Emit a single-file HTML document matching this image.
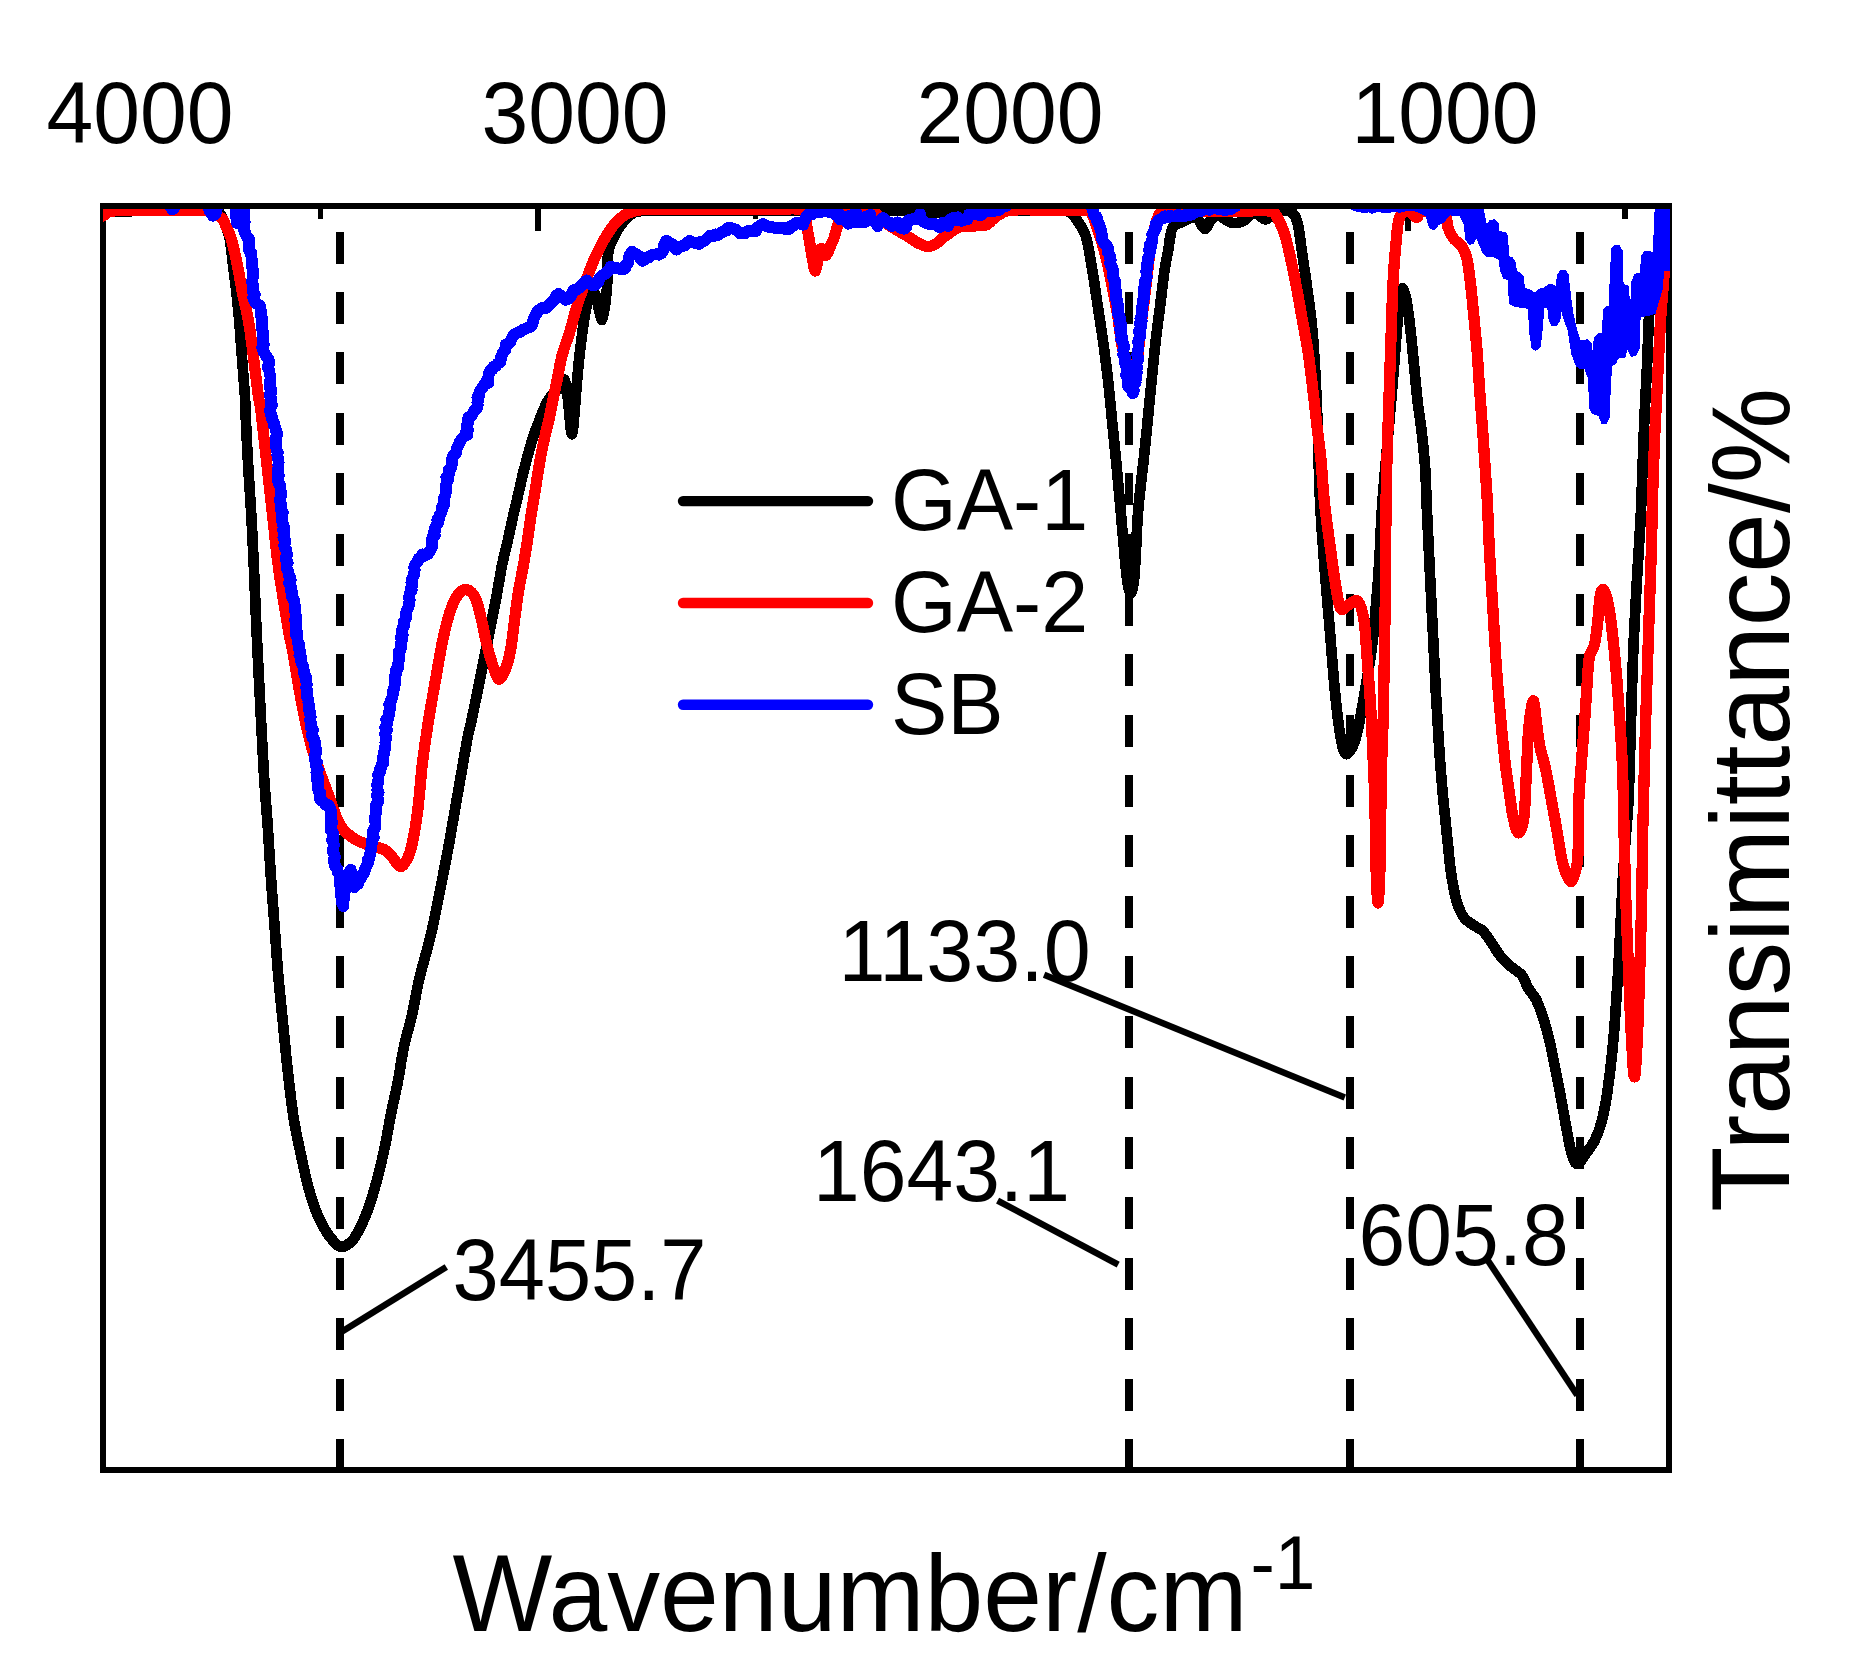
<!DOCTYPE html>
<html><head><meta charset="utf-8"><title>FTIR spectra</title>
<style>html,body{margin:0;padding:0;background:#fff}svg{display:block}</style>
</head><body>
<svg width="1866" height="1673" viewBox="0 0 1866 1673">
<rect width="1866" height="1673" fill="#fff"/>
<defs><clipPath id="pc"><rect x="103" y="209" width="1567" height="1261"/></clipPath></defs>
<g stroke="#000" stroke-width="8" stroke-dasharray="32 28.36" shape-rendering="crispEdges">
<line x1="340.0" y1="231.7" x2="340.0" y2="1470"/>
<line x1="1128.9" y1="231.7" x2="1128.9" y2="1470"/>
<line x1="1350.4" y1="231.7" x2="1350.4" y2="1470"/>
<line x1="1579.6" y1="231.7" x2="1579.6" y2="1470"/>
</g>
<rect x="103" y="206" width="1565.8" height="1264" fill="none" stroke="#000" stroke-width="6" shape-rendering="crispEdges"/>
<g stroke="#000" stroke-width="5.5" shape-rendering="crispEdges">
<line x1="538.0" y1="206" x2="538.0" y2="230.6"/>
<line x1="973.0" y1="206" x2="973.0" y2="230.6"/>
<line x1="1408.0" y1="206" x2="1408.0" y2="230.6"/>
<line x1="320.5" y1="206" x2="320.5" y2="218.8"/>
<line x1="755.5" y1="206" x2="755.5" y2="218.8"/>
<line x1="1190.5" y1="206" x2="1190.5" y2="218.8"/>
<line x1="1625.0" y1="206" x2="1625.0" y2="218.8"/>
</g>
<g clip-path="url(#pc)" fill="none" stroke-width="10.7" stroke-linejoin="round" stroke-linecap="round" shape-rendering="crispEdges">
<path stroke="#000" d="M103.0,211.5C110.8,211.4 133.8,211.1 150.0,211.0C166.2,210.9 190.0,211.0 200.0,211.0C210.0,211.0 207.5,210.9 210.0,211.0C212.5,211.1 213.4,211.2 215.0,211.5C216.6,211.8 217.8,211.0 219.5,213.0C221.2,215.0 223.3,219.3 225.0,223.7C226.7,228.1 228.5,232.4 229.8,239.4C231.2,246.4 232.0,256.9 233.1,265.7C234.2,274.5 235.4,283.2 236.4,292.0C237.4,300.8 238.2,309.5 239.0,318.3C239.8,327.1 240.3,335.8 241.0,344.6C241.7,353.4 242.3,362.1 243.0,370.9C243.7,379.7 244.6,390.7 245.0,397.2C245.4,403.7 244.9,399.1 245.4,410.0C245.9,420.9 247.0,445.1 248.0,462.6C249.0,480.1 250.3,497.7 251.3,515.2C252.3,532.7 253.0,548.6 253.9,567.7C254.8,586.8 255.5,607.9 256.5,629.9C257.5,651.9 258.8,676.3 260.0,700.0C261.2,723.7 262.5,750.3 263.8,772.0C265.1,793.7 266.8,812.0 268.0,830.0C269.2,848.0 270.0,863.7 271.1,880.0C272.2,896.3 273.5,911.9 274.7,927.8C275.9,943.7 276.9,959.6 278.3,975.6C279.7,991.6 281.4,1007.5 283.0,1023.5C284.6,1039.5 286.0,1055.4 287.8,1071.3C289.6,1087.2 291.6,1105.1 293.8,1119.1C296.0,1133.0 298.6,1143.8 301.0,1155.0C303.4,1166.2 305.5,1176.5 308.1,1186.1C310.7,1195.7 313.5,1204.8 316.5,1212.4C319.5,1220.0 322.9,1226.3 326.1,1231.5C329.3,1236.7 333.0,1240.9 335.6,1243.5C338.2,1246.1 339.6,1246.8 341.6,1247.0C343.6,1247.2 345.5,1245.8 347.5,1244.5C349.5,1243.2 350.9,1243.0 353.4,1239.4C355.9,1235.8 360.0,1228.3 362.6,1222.7C365.2,1217.1 366.9,1212.9 369.3,1205.9C371.7,1198.9 374.2,1190.5 376.8,1180.8C379.4,1171.0 382.3,1158.6 384.7,1147.4C387.1,1136.2 388.8,1125.1 391.0,1113.9C393.2,1102.7 396.0,1091.6 398.1,1080.4C400.2,1069.2 401.5,1058.1 403.9,1046.9C406.3,1035.8 409.8,1024.7 412.3,1013.5C414.8,1002.4 416.6,990.3 419.0,980.0C421.4,969.7 424.2,960.4 426.5,951.7C428.8,943.0 430.7,935.8 432.5,927.8C434.3,919.8 435.7,911.9 437.3,903.9C438.9,895.9 440.1,890.1 442.1,880.0C444.1,869.9 446.9,855.6 449.1,843.5C451.3,831.4 453.2,819.6 455.3,807.6C457.4,795.6 459.5,783.7 461.6,771.7C463.7,759.8 466.2,744.5 467.9,735.9C469.6,727.3 469.5,729.8 471.6,720.0C473.7,710.2 478.3,687.6 480.4,677.2C482.5,666.8 482.6,666.0 484.3,657.5C486.0,649.0 488.4,636.9 490.5,626.5C492.6,616.1 494.8,605.8 496.7,595.4C498.6,585.0 500.3,573.5 502.2,564.3C504.1,555.1 506.0,548.4 507.9,540.0C509.8,531.6 511.9,521.4 513.6,513.9C515.3,506.3 516.7,501.1 518.2,494.7C519.7,488.3 521.0,482.0 522.5,475.6C524.0,469.2 525.8,462.9 527.5,456.5C529.2,450.1 530.9,443.8 533.0,437.4C535.1,431.0 537.8,424.2 540.2,418.2C542.6,412.2 544.9,405.9 547.4,401.5C549.9,397.1 552.7,394.4 555.0,392.0C557.3,389.6 559.4,389.0 561.0,387.0C562.6,385.0 563.5,377.8 564.7,380.0C565.9,382.2 566.8,391.0 568.0,400.0C569.2,409.0 570.7,436.9 572.2,434.0C573.7,431.1 575.5,397.4 576.9,382.6C578.3,367.8 579.1,357.6 580.7,345.1C582.3,332.6 584.4,316.4 586.3,307.6C588.2,298.9 590.3,294.5 591.9,292.6C593.5,290.7 594.3,291.5 596.0,296.0C597.7,300.5 600.4,321.0 602.2,319.8C604.0,318.6 605.9,300.0 606.9,288.8C607.9,277.6 606.7,261.9 608.3,252.5C609.9,243.1 613.7,237.7 616.3,232.5C618.9,227.3 621.0,224.5 623.8,221.3C626.6,218.1 629.7,214.9 633.2,213.2C636.7,211.5 633.9,211.4 645.0,211.0C656.1,210.6 674.2,211.0 700.0,211.0C725.8,211.0 766.7,211.0 800.0,211.0C833.3,211.0 877.2,210.8 900.0,211.0C922.8,211.2 925.3,212.5 937.0,212.5C948.7,212.5 952.8,211.2 970.0,211.0C987.2,210.8 1023.8,211.0 1040.0,211.0C1056.2,211.0 1060.9,209.6 1067.0,211.0C1073.1,212.4 1073.3,215.2 1076.4,219.4C1079.5,223.6 1083.2,227.9 1085.8,236.3C1088.4,244.7 1090.3,258.1 1092.3,270.0C1094.3,281.9 1096.1,295.1 1098.0,307.6C1099.9,320.1 1101.9,332.6 1103.6,345.1C1105.3,357.6 1106.9,370.1 1108.3,382.6C1109.7,395.1 1110.8,407.6 1112.0,420.1C1113.2,432.6 1114.4,442.9 1115.8,457.7C1117.2,472.5 1119.0,491.9 1120.5,509.0C1122.0,526.0 1123.8,547.3 1125.0,560.0C1126.2,572.7 1127.0,579.5 1128.0,585.0C1129.0,590.5 1130.0,593.8 1131.0,593.0C1132.0,592.2 1133.2,587.2 1134.0,580.0C1134.8,572.8 1135.3,561.8 1136.0,550.0C1136.7,538.2 1137.0,524.4 1138.3,509.0C1139.6,493.6 1142.3,472.5 1143.9,457.7C1145.5,442.9 1146.5,432.6 1147.7,420.1C1149.0,407.6 1150.2,395.1 1151.4,382.6C1152.7,370.1 1153.8,357.6 1155.2,345.1C1156.6,332.6 1158.3,320.1 1159.9,307.6C1161.5,295.1 1163.2,279.6 1164.6,270.0C1166.0,260.4 1167.4,255.3 1168.3,250.0C1169.2,244.7 1169.2,241.8 1170.0,238.0C1170.8,234.2 1171.1,229.5 1173.0,226.9C1174.9,224.3 1178.1,223.8 1181.4,222.2C1184.7,220.6 1189.9,218.0 1192.7,217.5C1195.5,217.0 1196.0,217.1 1198.0,219.0C1200.0,220.9 1202.6,228.6 1204.8,228.8C1207.0,229.0 1208.7,222.2 1211.0,220.0C1213.3,217.8 1216.3,215.6 1218.8,215.6C1221.3,215.6 1223.5,218.8 1226.0,220.0C1228.5,221.2 1230.9,222.9 1233.8,223.1C1236.7,223.3 1239.8,222.7 1243.2,221.0C1246.6,219.3 1250.7,213.5 1254.4,213.2C1258.2,212.9 1262.3,219.5 1265.7,219.4C1269.1,219.3 1272.1,213.9 1275.0,212.5C1277.9,211.1 1280.2,211.0 1283.0,211.0C1285.8,211.0 1289.6,210.5 1292.0,212.5C1294.4,214.5 1295.9,216.6 1297.6,223.1C1299.2,229.6 1299.5,234.1 1301.9,251.3C1304.3,268.5 1309.5,301.3 1312.0,326.3C1314.5,351.3 1315.4,372.4 1316.7,401.4C1318.0,430.3 1318.7,472.8 1320.0,500.0C1321.3,527.2 1322.7,542.9 1324.3,564.4C1325.9,585.9 1327.9,607.3 1329.7,628.8C1331.5,650.2 1333.3,675.2 1335.1,693.1C1336.9,711.0 1338.6,725.9 1340.4,736.0C1342.2,746.1 1343.5,752.9 1345.8,754.0C1348.1,755.1 1351.9,749.1 1354.4,742.5C1356.9,735.9 1358.0,730.0 1360.8,714.6C1363.6,699.2 1369.0,668.1 1371.5,650.2C1374.0,632.3 1374.5,621.6 1375.8,607.3C1377.1,593.0 1378.0,581.4 1379.1,564.4C1380.2,547.4 1380.5,529.1 1382.2,505.0C1383.9,480.9 1387.5,443.5 1389.5,420.0C1391.5,396.5 1392.8,381.1 1394.2,363.9C1395.6,346.7 1396.8,329.5 1398.0,317.0C1399.2,304.5 1400.3,291.8 1401.7,289.0C1403.1,286.2 1405.0,293.8 1406.4,300.0C1407.8,306.2 1408.8,315.7 1410.1,326.3C1411.3,336.9 1412.7,351.4 1413.9,363.9C1415.2,376.4 1416.3,390.5 1417.6,401.4C1418.8,412.3 1420.2,418.6 1421.4,429.5C1422.7,440.4 1424.2,454.4 1425.1,467.0C1426.0,479.6 1426.0,488.8 1426.7,505.0C1427.4,521.2 1428.5,543.8 1429.5,564.4C1430.5,585.0 1431.6,607.3 1432.7,628.8C1433.8,650.2 1434.8,673.4 1435.9,693.1C1437.0,712.8 1438.0,730.7 1439.1,746.8C1440.2,762.9 1441.3,777.2 1442.4,789.7C1443.5,802.2 1444.7,812.7 1445.6,821.9C1446.5,831.1 1447.1,836.6 1448.0,845.0C1448.9,853.4 1449.5,863.0 1450.9,872.2C1452.3,881.4 1454.2,892.6 1456.3,900.1C1458.4,907.6 1460.8,913.0 1463.8,917.3C1466.8,921.6 1471.3,923.5 1474.5,925.8C1477.7,928.1 1480.2,928.3 1483.1,931.2C1486.0,934.1 1488.8,938.9 1491.7,943.0C1494.6,947.1 1497.1,952.0 1500.3,955.9C1503.5,959.8 1507.4,963.4 1511.0,966.6C1514.6,969.8 1518.9,971.6 1521.8,975.2C1524.7,978.8 1525.9,984.2 1528.2,988.1C1530.5,992.0 1533.6,994.9 1535.7,998.8C1537.8,1002.7 1539.3,1006.7 1541.1,1011.7C1542.9,1016.7 1544.8,1023.1 1546.4,1028.8C1548.0,1034.5 1549.3,1039.5 1550.7,1046.0C1552.1,1052.5 1553.6,1060.3 1555.0,1067.5C1556.4,1074.7 1557.9,1081.4 1559.3,1088.9C1560.7,1096.4 1562.2,1104.6 1563.6,1112.5C1565.0,1120.4 1566.5,1128.9 1567.9,1136.1C1569.3,1143.3 1570.6,1150.8 1572.2,1155.5C1573.8,1160.2 1575.3,1164.4 1577.6,1164.0C1579.9,1163.6 1583.2,1157.2 1586.1,1153.3C1588.9,1149.4 1592.2,1145.4 1594.7,1140.4C1597.2,1135.4 1599.2,1130.5 1601.2,1123.3C1603.2,1116.1 1604.9,1107.2 1606.5,1097.5C1608.1,1087.8 1609.5,1076.0 1610.8,1065.3C1612.0,1054.6 1613.1,1043.8 1614.0,1033.1C1614.9,1022.4 1615.5,1011.6 1616.2,1000.9C1616.9,990.2 1617.6,981.3 1618.3,968.8C1619.0,956.3 1619.8,940.1 1620.5,925.8C1621.2,911.5 1621.8,897.2 1622.6,882.9C1623.4,868.6 1624.5,853.8 1625.5,840.0C1626.5,826.2 1627.5,820.9 1628.5,800.0C1629.5,779.1 1630.4,739.6 1631.2,714.6C1632.0,689.6 1632.4,671.7 1633.3,650.2C1634.2,628.7 1635.5,605.5 1636.6,585.8C1637.7,566.1 1639.0,545.7 1639.8,532.2C1640.6,518.7 1640.5,523.6 1641.2,505.0C1642.0,486.4 1643.3,443.8 1644.3,420.3C1645.3,396.8 1646.3,381.2 1647.1,364.0C1647.9,346.8 1648.3,329.0 1649.0,317.0C1649.7,305.0 1650.5,299.8 1651.5,292.0C1652.5,284.2 1653.8,277.0 1655.0,270.0C1656.2,263.0 1657.7,257.3 1659.0,250.0C1660.3,242.7 1661.7,232.5 1663.0,226.0C1664.3,219.5 1666.3,213.5 1667.0,211.0"/>
<path stroke="#f00" stroke-width="11.3" d="M103.0,216.0C103.8,215.4 105.8,213.1 108.0,212.2C110.2,211.3 112.3,211.0 116.0,210.7C119.7,210.4 115.5,210.3 130.0,210.2C144.5,210.1 189.3,209.8 203.0,210.2C216.7,210.6 209.5,211.6 212.0,212.5C214.5,213.4 216.2,214.3 218.0,215.5C219.8,216.7 221.7,217.9 223.0,219.7C224.3,221.5 224.5,223.0 225.9,226.3C227.3,229.6 229.6,232.8 231.5,239.4C233.4,246.0 235.7,256.9 237.5,265.7C239.3,274.5 240.6,283.2 242.3,292.0C244.1,300.8 246.4,309.5 248.0,318.3C249.6,327.1 250.7,335.8 251.9,344.6C253.1,353.4 254.1,362.1 255.2,370.9C256.3,379.7 257.6,390.7 258.5,397.2C259.4,403.7 259.4,399.1 260.8,410.0C262.2,420.9 264.7,445.1 266.7,462.6C268.7,480.1 270.6,497.7 272.6,515.2C274.6,532.7 275.9,548.6 278.5,567.7C281.1,586.8 286.1,616.2 288.4,629.9C290.7,643.6 290.1,637.1 292.5,650.0C294.9,662.9 299.2,690.8 302.5,707.5C305.8,724.2 308.3,735.8 312.5,750.0C316.7,764.2 322.9,780.0 327.5,792.5C332.1,805.0 335.8,817.5 340.0,825.0C344.2,832.5 348.3,834.4 352.5,837.5C356.7,840.6 359.6,841.7 365.0,843.8C370.4,845.8 380.3,847.6 385.0,850.0C389.7,852.4 390.5,855.2 393.0,858.0C395.5,860.8 397.8,866.0 400.0,866.5C402.2,867.0 404.1,864.1 406.0,861.0C407.9,857.9 409.3,856.1 411.2,848.0C413.2,839.9 415.6,826.8 417.5,812.5C419.4,798.2 420.6,777.9 422.5,762.5C424.4,747.1 426.4,734.2 428.6,720.0C430.9,705.8 433.6,690.7 436.0,677.2C438.4,663.7 440.6,650.1 443.0,639.0C445.4,627.9 447.9,617.8 450.5,610.3C453.1,602.8 455.7,597.4 458.5,594.0C461.3,590.6 464.6,589.0 467.5,589.8C470.4,590.6 473.5,593.9 475.8,598.9C478.1,603.9 479.6,612.3 481.5,619.9C483.4,627.5 484.9,636.7 486.9,644.7C488.9,652.7 491.5,662.0 493.6,667.7C495.7,673.5 497.2,679.2 499.3,679.2C501.4,679.2 504.1,672.8 506.0,667.7C507.9,662.6 509.4,656.6 510.8,648.6C512.2,640.6 513.3,629.5 514.6,619.9C515.9,610.3 517.0,600.4 518.5,591.2C520.0,582.1 522.0,573.5 523.5,565.0C525.0,556.5 526.2,548.5 527.5,540.0C528.8,531.5 530.1,521.4 531.3,513.9C532.5,506.3 533.5,501.1 534.5,494.7C535.5,488.3 536.5,482.0 537.5,475.6C538.5,469.2 539.5,462.9 540.7,456.5C541.9,450.1 543.3,443.8 544.7,437.4C546.1,431.0 547.9,424.5 549.3,418.2C550.7,411.9 551.7,405.9 553.0,399.5C554.3,393.1 555.7,386.9 557.2,379.5C558.7,372.1 560.0,363.4 562.1,355.4C564.2,347.4 567.5,339.5 569.9,331.5C572.3,323.5 574.0,315.6 576.5,307.6C579.0,299.6 581.9,291.7 584.8,283.7C587.7,275.7 591.5,265.8 594.0,259.8C596.5,253.8 598.0,251.8 600.0,247.8C602.0,243.8 603.8,239.9 606.3,235.9C608.8,231.9 611.5,227.5 614.7,223.9C617.9,220.3 621.6,216.8 625.5,214.5C629.4,212.2 633.9,211.1 638.0,210.3C642.1,209.5 639.7,209.8 650.0,209.7C660.3,209.6 681.7,209.7 700.0,209.7C718.3,209.7 742.7,209.7 760.0,209.7C777.3,209.7 796.2,207.6 803.9,209.7C811.6,211.8 805.0,216.6 806.0,222.0C807.0,227.4 808.4,235.2 809.6,241.9C810.8,248.6 812.1,257.1 813.0,262.0C813.9,266.9 814.5,271.0 815.2,271.0C816.0,271.0 816.6,265.7 817.5,262.0C818.4,258.3 819.8,250.8 820.8,249.0C821.8,247.2 822.6,250.0 823.5,251.0C824.4,252.0 825.3,255.7 826.4,255.0C827.5,254.3 828.8,249.8 830.0,247.0C831.2,244.2 832.3,242.8 833.9,238.2C835.5,233.6 837.7,224.1 839.6,219.4C841.5,214.7 840.1,211.7 845.2,210.2C850.3,208.7 862.7,207.7 870.0,210.2C877.3,212.7 882.5,220.7 888.8,225.0C895.0,229.3 902.6,233.3 907.5,236.3C912.4,239.3 914.5,241.3 918.0,243.0C921.5,244.7 925.0,246.6 928.2,246.6C931.4,246.6 934.2,244.7 937.0,243.0C939.8,241.3 941.2,239.0 945.0,236.3C948.8,233.6 955.0,228.6 960.0,226.9C965.0,225.2 970.6,226.2 975.0,225.9C979.4,225.6 983.5,226.0 986.3,225.0C989.1,224.0 990.1,221.6 992.0,220.0C993.9,218.4 994.5,217.2 997.6,215.6C1000.7,214.0 1002.0,211.1 1010.7,210.2C1019.4,209.3 1037.1,210.1 1050.0,210.2C1062.9,210.2 1081.0,209.9 1088.0,210.5C1095.0,211.1 1090.7,211.6 1092.0,214.0C1093.3,216.4 1094.3,220.2 1096.0,225.0C1097.7,229.8 1100.0,236.2 1102.0,243.0C1104.0,249.8 1106.1,257.8 1108.0,266.0C1109.9,274.2 1111.6,283.3 1113.3,292.0C1115.0,300.7 1116.6,309.2 1118.0,318.0C1119.4,326.8 1120.4,337.7 1121.8,345.0C1123.2,352.3 1124.9,358.0 1126.5,362.0C1128.1,366.0 1130.0,368.7 1131.3,369.0C1132.6,369.3 1133.5,365.9 1134.5,364.0C1135.5,362.1 1136.6,363.3 1137.6,357.9C1138.6,352.5 1139.3,340.4 1140.3,331.6C1141.3,322.8 1142.5,314.1 1143.6,305.3C1144.7,296.5 1145.6,288.8 1146.8,278.9C1148.0,269.0 1149.2,255.5 1150.8,246.1C1152.3,236.7 1154.4,228.1 1156.1,222.4C1157.8,216.7 1159.0,213.9 1161.0,212.0C1163.0,210.1 1161.5,211.1 1168.0,211.0C1174.5,210.9 1188.0,211.2 1200.0,211.2C1212.0,211.2 1228.3,211.2 1240.0,211.2C1251.7,211.2 1263.7,209.9 1270.0,211.2C1276.3,212.5 1275.4,214.5 1278.0,219.0C1280.6,223.5 1283.1,228.7 1285.8,238.3C1288.5,247.9 1291.8,263.7 1294.4,276.5C1297.0,289.3 1299.2,302.2 1301.5,315.0C1303.8,327.8 1306.3,340.3 1308.2,353.0C1310.1,365.7 1311.5,378.2 1313.0,391.0C1314.5,403.8 1316.1,418.0 1317.4,429.5C1318.7,441.0 1319.8,447.8 1321.0,460.0C1322.2,472.2 1323.0,489.2 1324.5,503.0C1326.0,516.8 1327.9,529.8 1329.7,542.9C1331.5,556.0 1333.3,570.6 1335.1,581.5C1336.9,592.4 1338.3,604.0 1340.4,608.0C1342.5,612.0 1345.0,606.4 1347.9,605.2C1350.8,604.0 1354.9,598.5 1357.6,601.0C1360.3,603.5 1362.4,610.2 1364.0,620.2C1365.6,630.2 1366.2,647.0 1367.3,660.9C1368.4,674.8 1369.6,689.6 1370.5,703.9C1371.4,718.2 1371.9,730.7 1372.6,746.8C1373.3,762.9 1374.3,784.0 1374.8,800.4C1375.3,816.8 1375.2,831.4 1375.5,845.0C1375.8,858.6 1376.1,872.3 1376.5,882.0C1376.9,891.7 1377.5,903.0 1378.0,903.0C1378.5,903.0 1379.1,891.7 1379.5,882.0C1379.9,872.3 1380.3,862.2 1380.6,845.0C1380.9,827.8 1380.8,800.7 1381.2,779.0C1381.7,757.3 1382.8,736.1 1383.3,714.6C1383.8,693.1 1384.0,671.7 1384.4,650.2C1384.8,628.7 1385.2,610.0 1385.5,585.8C1385.8,561.6 1385.7,529.5 1386.0,505.0C1386.3,480.5 1387.0,459.3 1387.6,438.9C1388.2,418.5 1388.9,401.4 1389.5,382.6C1390.1,363.8 1390.8,343.5 1391.4,326.3C1392.0,309.1 1392.4,293.5 1393.2,279.4C1394.0,265.3 1395.1,251.9 1396.1,241.9C1397.0,231.9 1397.5,224.5 1398.9,219.4C1400.3,214.3 1402.7,212.5 1404.5,211.2C1406.3,209.9 1408.0,210.6 1410.0,211.7C1412.0,212.8 1414.7,217.5 1416.7,217.5C1418.7,217.5 1417.5,212.6 1422.0,211.7C1426.5,210.8 1439.6,209.5 1443.9,212.0C1448.2,214.5 1446.1,222.5 1447.7,226.9C1449.3,231.3 1450.8,234.8 1453.3,238.2C1455.8,241.6 1460.3,243.8 1462.7,247.5C1465.1,251.2 1466.0,253.8 1467.4,260.7C1468.8,267.6 1470.0,279.4 1471.1,288.8C1472.2,298.2 1472.9,306.8 1473.9,317.0C1474.9,327.2 1476.0,337.5 1477.0,350.0C1478.0,362.5 1478.8,377.8 1479.8,392.0C1480.8,406.2 1482.0,420.3 1483.0,435.0C1484.0,449.7 1485.2,468.3 1486.0,480.0C1486.8,491.7 1486.9,492.7 1487.5,505.0C1488.1,517.3 1488.7,536.6 1489.6,553.6C1490.5,570.6 1491.7,589.4 1492.8,607.3C1493.9,625.2 1494.8,643.0 1496.0,660.9C1497.2,678.8 1498.9,698.5 1500.3,714.6C1501.7,730.7 1503.2,745.0 1504.6,757.5C1506.0,770.0 1507.5,779.7 1508.9,789.7C1510.3,799.7 1511.6,810.4 1513.2,817.6C1514.8,824.8 1516.7,833.0 1518.5,833.0C1520.3,833.0 1522.6,826.6 1523.9,817.6C1525.2,808.6 1525.4,792.6 1526.1,779.0C1526.8,765.4 1527.5,746.7 1528.2,736.0C1528.9,725.3 1529.4,720.4 1530.3,714.6C1531.2,708.8 1532.5,699.2 1533.6,701.0C1534.7,702.8 1535.7,717.7 1536.8,725.3C1537.9,732.9 1538.6,739.6 1540.0,746.8C1541.4,753.9 1543.6,760.0 1545.4,768.2C1547.2,776.4 1548.9,786.1 1550.7,796.1C1552.5,806.1 1554.6,817.4 1556.5,828.0C1558.4,838.6 1560.4,852.5 1562.0,860.0C1563.6,867.5 1564.5,869.4 1566.0,873.0C1567.5,876.6 1569.5,881.5 1571.0,881.5C1572.5,881.5 1573.9,876.3 1575.0,873.0C1576.1,869.7 1576.9,866.2 1577.4,861.5C1578.0,856.8 1578.1,855.2 1578.3,845.0C1578.5,834.8 1578.2,815.0 1578.8,800.4C1579.4,785.8 1580.8,771.8 1581.8,757.5C1582.8,743.2 1584.2,727.1 1585.1,714.6C1586.0,702.1 1586.5,692.0 1587.2,682.4C1587.9,672.8 1588.2,663.1 1589.4,656.7C1590.7,650.3 1593.3,649.9 1594.7,643.8C1596.1,637.7 1597.0,628.1 1597.9,620.2C1598.8,612.3 1599.2,601.7 1600.1,596.6C1601.0,591.5 1602.0,588.8 1603.3,589.5C1604.5,590.2 1606.2,594.4 1607.6,600.9C1609.0,607.4 1610.5,617.0 1611.9,628.8C1613.3,640.6 1615.0,657.4 1616.2,671.7C1617.5,686.0 1618.4,700.3 1619.4,714.6C1620.4,728.9 1621.3,743.2 1622.0,757.5C1622.7,771.8 1623.1,786.6 1623.5,800.4C1623.9,814.1 1623.8,822.7 1624.2,840.0C1624.6,857.3 1625.3,882.5 1626.0,904.0C1626.7,925.5 1627.6,947.3 1628.5,968.8C1629.4,990.3 1630.2,1015.1 1631.2,1033.1C1632.2,1051.1 1633.3,1077.0 1634.4,1077.0C1635.5,1077.0 1636.7,1051.1 1637.6,1033.1C1638.5,1015.1 1639.1,990.2 1639.8,968.8C1640.5,947.3 1641.1,925.0 1641.6,904.4C1642.0,883.8 1642.2,862.3 1642.5,845.0C1642.8,827.7 1643.0,818.6 1643.5,800.4C1644.0,782.2 1644.6,757.5 1645.2,736.0C1645.8,714.5 1646.6,693.2 1647.3,671.7C1648.0,650.2 1648.7,628.8 1649.4,607.3C1650.1,585.8 1651.1,559.9 1651.6,542.9C1652.1,525.9 1651.8,522.3 1652.3,505.0C1652.8,487.7 1653.8,459.2 1654.6,439.0C1655.4,418.8 1656.5,402.5 1657.4,383.7C1658.3,364.9 1659.3,342.2 1660.2,326.4C1661.1,310.6 1661.8,304.5 1663.0,288.9C1664.2,273.2 1666.7,244.0 1667.7,232.5C1668.7,221.0 1668.8,222.1 1669.0,220.0"/>
<path stroke="#00f" stroke-width="11.8" d="M103.0,195.0 L105.6,194.6 L108.2,194.2 L110.8,195.3 L113.4,194.1 L116.0,195.1 L118.5,194.7 L121.1,194.0 L123.7,195.0 L126.3,194.0 L128.9,194.9 L131.5,194.1 L134.1,194.1 L136.7,194.8 L139.3,195.7 L141.9,194.2 L144.5,194.4 L147.0,195.3 L149.6,196.0 L152.2,195.2 L154.8,194.8 L157.4,196.0 L160.5,194.2 L162.2,197.3 L165.6,197.9 L168.7,199.6 L170.0,202.1 L170.9,204.7 L171.1,207.7 L172.4,209.5 L174.4,207.4 L175.8,205.0 L176.5,202.3 L178.1,200.1 L180.2,197.5 L182.8,195.8 L186.0,194.4 L188.8,195.4 L191.6,194.8 L194.4,194.6 L197.2,195.2 L200.1,194.9 L202.3,196.3 L203.6,198.8 L205.6,200.2 L207.5,202.3 L207.8,205.1 L208.9,207.5 L209.3,210.4 L211.2,213.2 L212.9,215.8 L215.8,213.5 L215.7,209.7 L217.5,207.2 L219.3,204.7 L219.2,201.5 L221.0,199.0 L223.6,196.7 L227.2,196.7 L230.0,195.6 L233.2,195.2 L235.5,195.0 L236.7,197.5 L235.9,200.1 L236.2,202.6 L236.2,205.2 L236.5,207.7 L235.7,210.3 L235.5,212.8 L236.6,215.4 L236.2,217.9 L237.5,220.4 L237.0,223.1 L237.4,220.5 L238.6,218.1 L238.8,215.4 L238.1,212.6 L238.8,210.1 L239.9,207.6 L239.1,204.4 L241.7,202.5 L244.2,200.0 L244.4,202.7 L244.5,205.4 L243.0,208.1 L244.4,210.8 L244.2,213.5 L243.9,216.2 L242.9,218.9 L244.7,221.6 L243.9,224.3 L243.7,227.0 L244.1,230.3 L245.3,233.3 L246.6,236.5 L249.1,239.3 L249.1,242.0 L249.6,244.6 L248.8,247.4 L248.9,250.0 L251.0,252.5 L251.3,255.1 L251.5,257.7 L251.8,260.4 L251.6,263.1 L251.7,265.7 L252.6,268.3 L253.3,270.9 L252.6,273.6 L252.9,276.2 L252.6,278.9 L251.9,281.5 L252.7,284.1 L253.2,286.7 L253.2,289.4 L253.2,292.0 L254.9,294.6 L253.3,297.4 L254.0,300.4 L255.7,302.6 L257.7,304.4 L260.2,306.0 L260.5,309.1 L261.4,312.1 L260.5,315.3 L262.1,318.2 L262.2,320.9 L262.1,323.5 L262.4,326.1 L262.1,328.8 L262.9,331.4 L263.2,334.0 L263.1,336.7 L263.3,339.3 L262.9,342.0 L263.8,344.5 L262.2,347.5 L263.0,350.2 L264.1,352.6 L265.6,355.0 L267.1,357.5 L268.8,360.0 L269.5,362.7 L268.1,365.5 L268.0,368.3 L269.4,370.9 L269.5,373.5 L270.5,376.1 L270.6,378.7 L270.2,381.4 L270.6,384.0 L269.5,386.7 L271.1,389.3 L271.5,391.9 L269.7,394.6 L270.7,397.2 L271.6,399.7 L270.8,402.3 L272.0,404.9 L270.9,407.4 L270.0,410.1 L270.5,412.6 L271.1,415.0 L272.3,417.4 L272.3,419.9 L273.7,422.1 L273.6,425.1 L275.2,427.3 L275.7,429.7 L276.8,432.2 L277.1,434.7 L275.9,437.3 L275.6,439.9 L276.0,442.4 L276.2,444.9 L276.3,447.4 L276.6,450.0 L277.8,452.5 L277.3,455.0 L277.7,457.5 L278.5,460.0 L278.6,462.5 L278.3,465.1 L278.6,467.6 L277.8,470.2 L277.5,472.7 L278.8,475.1 L278.0,477.7 L278.1,480.2 L278.4,482.7 L279.9,485.1 L280.4,487.6 L280.6,490.1 L280.9,492.6 L281.1,495.1 L280.4,497.7 L280.0,500.2 L280.4,502.7 L281.4,505.2 L281.2,507.7 L281.1,510.2 L282.9,512.6 L281.8,515.2 L281.6,517.8 L282.1,520.3 L282.4,522.8 L283.2,525.2 L284.1,527.6 L283.1,530.3 L284.3,532.7 L283.5,535.3 L283.4,537.8 L284.9,540.2 L285.1,542.7 L284.2,545.3 L284.9,547.7 L286.4,550.1 L286.7,552.6 L286.9,555.1 L285.5,557.8 L286.0,560.3 L287.7,562.6 L286.4,565.3 L286.4,567.9 L287.5,570.2 L288.6,572.6 L288.7,575.1 L290.0,577.4 L290.7,579.8 L289.1,582.7 L290.3,585.0 L291.0,587.5 L290.6,590.1 L292.1,592.4 L291.6,595.0 L292.2,597.5 L294.0,599.7 L294.3,602.2 L294.7,604.6 L295.3,607.2 L294.7,609.7 L295.6,612.2 L295.5,614.8 L296.4,617.2 L294.9,619.9 L296.3,622.3 L296.3,624.8 L296.2,627.4 L295.7,630.0 L297.0,632.4 L296.2,635.0 L297.4,637.4 L297.6,640.0 L297.9,642.5 L299.3,644.9 L298.6,647.5 L299.4,649.8 L300.4,652.2 L299.4,655.2 L301.3,657.3 L301.3,660.0 L301.4,662.6 L302.4,665.0 L303.5,667.4 L303.7,670.0 L304.3,672.5 L304.4,675.1 L306.2,677.4 L305.5,680.0 L306.5,682.4 L306.8,684.9 L306.1,687.6 L307.0,690.0 L307.2,692.5 L307.1,695.1 L307.1,697.6 L308.5,700.0 L308.4,702.5 L309.0,705.0 L309.3,707.5 L309.2,710.1 L310.1,712.5 L310.3,715.0 L310.7,717.5 L310.0,720.1 L310.9,722.6 L310.8,725.1 L311.0,727.6 L312.9,729.9 L312.5,732.5 L312.0,735.1 L312.6,737.6 L314.5,739.9 L314.8,742.4 L314.5,745.0 L315.6,747.4 L315.6,749.9 L316.2,752.4 L315.1,755.0 L315.1,757.6 L315.1,760.1 L317.0,762.4 L316.0,765.0 L316.4,767.5 L317.8,769.9 L316.4,772.6 L316.5,775.1 L318.4,777.4 L317.0,780.1 L318.5,782.5 L318.5,785.0 L317.7,787.6 L318.3,790.1 L320.0,792.4 L319.6,795.0 L319.7,797.5 L320.2,799.7 L322.4,801.0 L324.2,802.7 L325.7,804.9 L328.6,805.2 L329.9,807.5 L330.3,810.0 L331.5,812.4 L331.0,815.0 L330.6,817.5 L331.0,820.0 L332.2,822.4 L330.4,825.1 L331.0,827.6 L330.8,830.1 L332.9,832.4 L332.8,835.0 L333.5,837.4 L332.1,840.1 L333.4,842.5 L333.9,844.9 L333.5,847.5 L332.6,850.1 L333.1,852.6 L334.5,855.0 L334.9,857.4 L333.5,860.1 L334.4,862.5 L334.4,865.0 L335.8,867.0 L337.5,869.5 L338.0,872.7 L340.2,875.0 L341.1,877.5 L339.5,880.2 L340.3,882.8 L340.2,885.4 L342.0,887.8 L340.5,890.6 L342.4,893.0 L340.9,895.7 L342.0,898.2 L342.4,900.8 L342.2,903.4 L343.4,906.2 L342.5,903.3 L342.8,900.7 L344.2,898.3 L344.1,895.6 L344.3,893.0 L345.0,890.4 L345.3,887.8 L346.1,885.3 L346.9,882.8 L347.4,880.2 L349.0,877.8 L348.5,875.0 L349.5,872.6 L350.7,869.8 L351.0,872.4 L352.4,874.7 L352.7,877.3 L353.9,879.7 L353.1,882.6 L354.2,885.0 L354.4,887.2 L356.2,885.3 L358.3,883.6 L358.0,880.5 L360.6,879.1 L361.1,876.5 L362.5,874.4 L364.4,872.6 L364.8,869.9 L365.8,867.5 L366.9,865.1 L368.3,862.8 L367.7,859.9 L369.5,857.7 L369.9,855.1 L370.5,852.6 L370.8,849.9 L371.4,847.4 L371.5,844.9 L372.0,842.4 L372.1,839.9 L373.9,837.6 L373.1,834.9 L373.2,832.4 L373.3,829.9 L375.3,827.6 L375.6,825.1 L375.5,822.5 L374.9,819.9 L375.1,817.4 L375.5,814.9 L376.2,812.5 L375.7,809.9 L376.5,807.5 L376.2,805.0 L377.9,802.6 L378.1,800.1 L377.4,797.5 L376.9,795.0 L378.6,792.6 L377.3,790.0 L377.6,787.5 L377.0,784.9 L378.0,782.5 L378.4,780.0 L378.6,777.5 L378.1,774.8 L379.8,772.5 L379.7,769.6 L381.3,767.3 L381.9,764.7 L383.5,762.5 L382.9,759.9 L383.0,757.4 L383.8,755.0 L383.8,752.5 L384.8,750.0 L384.8,747.5 L385.5,745.0 L385.4,742.5 L385.7,740.0 L386.2,737.6 L385.3,735.0 L385.4,732.5 L387.0,730.1 L385.3,727.4 L386.7,725.1 L387.0,722.6 L386.2,719.8 L388.4,717.6 L389.0,715.2 L388.9,712.6 L389.6,710.1 L390.2,707.6 L389.2,704.8 L390.6,702.5 L391.1,700.0 L392.3,697.7 L392.7,695.1 L393.3,692.6 L393.3,690.0 L394.5,687.7 L394.6,685.1 L395.1,682.6 L394.6,679.9 L394.7,677.3 L395.5,674.9 L396.3,672.5 L396.1,669.9 L398.1,667.6 L397.9,665.0 L398.4,662.5 L398.8,660.0 L399.3,657.6 L399.2,655.0 L398.5,652.3 L400.6,650.1 L400.9,647.6 L400.8,645.0 L401.2,642.5 L401.9,640.1 L401.0,637.4 L402.8,635.1 L402.2,632.4 L402.2,629.9 L403.0,627.4 L404.3,625.1 L403.6,622.4 L405.1,620.1 L406.0,617.8 L405.7,615.0 L406.2,612.4 L407.1,610.0 L408.2,607.6 L409.1,605.1 L409.2,602.5 L409.7,600.1 L408.9,597.3 L409.5,594.9 L410.2,592.4 L411.7,590.1 L411.2,587.4 L412.2,585.0 L411.4,582.3 L411.9,579.9 L412.7,577.4 L413.9,575.1 L414.3,572.6 L414.7,570.1 L414.2,567.4 L415.0,565.0 L416.4,563.0 L417.9,561.0 L418.8,558.5 L421.7,557.5 L422.3,554.4 L425.3,555.2 L427.8,554.2 L429.0,552.3 L430.4,550.0 L431.7,547.6 L432.5,545.2 L431.9,542.5 L432.0,539.9 L432.6,537.3 L434.8,535.3 L434.0,532.3 L435.5,530.0 L435.2,527.3 L436.7,525.0 L438.3,522.8 L437.3,519.8 L439.4,517.7 L439.7,515.0 L441.3,512.8 L441.8,510.2 L441.8,507.3 L444.0,505.3 L444.1,502.5 L444.0,499.9 L444.2,497.4 L445.5,495.0 L445.7,492.5 L445.7,490.0 L445.6,487.4 L446.3,485.0 L446.5,482.5 L448.0,480.1 L446.4,477.2 L448.7,475.1 L449.6,472.7 L448.8,469.8 L451.2,467.8 L451.4,465.1 L452.5,462.7 L451.9,459.9 L452.8,457.4 L453.5,454.9 L456.0,453.0 L456.4,450.1 L457.2,447.4 L458.6,444.9 L459.6,442.2 L461.3,439.4 L463.5,436.9 L467.0,435.1 L466.1,432.4 L467.9,430.1 L466.8,427.4 L467.2,424.9 L468.1,422.5 L467.7,419.9 L468.5,417.3 L471.1,416.1 L472.4,414.0 L473.8,411.9 L475.0,409.7 L477.1,407.7 L477.7,405.2 L477.4,402.5 L478.3,400.1 L477.4,397.3 L479.4,395.1 L479.4,392.5 L480.4,390.4 L482.1,388.3 L483.4,385.9 L484.9,383.7 L488.4,382.7 L487.2,379.8 L488.4,377.5 L488.7,374.9 L489.1,372.4 L490.3,370.4 L492.6,369.3 L493.7,366.6 L496.2,365.8 L497.7,363.6 L500.1,362.5 L500.7,359.9 L501.1,357.3 L502.0,354.7 L503.0,352.3 L505.3,350.3 L505.4,347.5 L505.8,344.6 L508.7,343.6 L510.6,341.7 L511.4,338.9 L512.7,336.5 L514.7,334.4 L517.1,332.9 L519.8,332.0 L522.1,330.2 L524.7,329.2 L527.2,327.9 L530.1,327.1 L532.0,324.8 L533.0,322.0 L533.6,319.1 L534.8,316.5 L536.3,313.9 L537.4,311.1 L539.6,309.9 L541.6,308.2 L544.1,307.5 L547.0,307.7 L548.2,305.2 L550.7,303.4 L552.7,301.4 L555.0,299.4 L555.8,296.3 L558.4,294.0 L560.9,295.8 L563.2,298.0 L565.5,299.9 L568.2,298.8 L569.9,296.8 L571.8,295.0 L572.4,291.8 L574.3,289.9 L577.2,289.2 L579.8,287.6 L581.6,285.0 L584.1,283.3 L586.8,280.3 L588.9,282.3 L590.9,284.6 L594.3,285.5 L596.2,283.7 L598.3,282.0 L599.0,279.0 L600.7,276.9 L602.6,275.1 L605.0,273.8 L607.2,271.5 L609.5,269.4 L610.5,266.8 L613.2,267.4 L615.7,268.3 L618.5,268.4 L621.1,269.4 L622.9,269.6 L625.4,267.9 L625.4,265.1 L627.8,263.4 L628.3,260.8 L628.7,258.1 L629.4,255.6 L630.7,253.4 L632.0,251.5 L634.0,253.5 L636.9,254.4 L639.1,256.2 L640.5,258.8 L642.7,260.8 L644.7,259.3 L646.8,257.8 L649.4,257.4 L651.1,255.2 L653.7,254.6 L656.3,254.3 L659.0,254.7 L661.6,253.2 L663.2,250.8 L663.5,247.8 L664.1,245.0 L665.3,242.4 L666.2,240.7 L668.5,242.2 L671.0,243.5 L673.3,244.9 L674.4,247.5 L676.5,249.7 L678.4,248.0 L680.4,246.4 L683.0,246.0 L685.5,245.2 L686.9,242.6 L689.6,240.9 L692.6,242.2 L695.7,243.0 L699.0,244.1 L700.7,241.7 L703.6,241.3 L705.8,239.7 L707.8,237.8 L709.8,235.7 L713.1,236.6 L715.5,234.4 L718.7,234.8 L721.0,232.9 L723.3,231.3 L726.3,230.6 L728.0,228.2 L730.0,227.7 L733.0,228.5 L735.7,229.6 L738.0,231.3 L740.0,233.2 L742.6,233.3 L745.2,233.4 L747.4,231.2 L750.0,231.3 L752.4,230.4 L755.6,231.4 L757.0,228.1 L759.4,226.1 L762.7,224.0 L765.4,225.2 L768.0,226.8 L770.8,227.3 L773.7,227.4 L776.2,228.3 L778.7,228.5 L781.3,227.5 L783.9,227.5 L786.2,229.4 L789.1,229.2 L790.7,226.1 L794.0,225.3 L796.4,222.8 L798.9,223.5 L801.4,224.0 L803.1,224.8 L803.7,221.9 L805.2,219.2 L806.3,216.5 L807.7,214.8 L809.8,212.5 L812.7,213.9 L814.9,211.8 L817.4,211.6 L820.1,212.2 L822.4,211.7 L825.0,211.3 L827.7,211.0 L830.0,212.3 L832.6,212.6 L834.8,214.2 L838.0,213.3 L840.0,214.8 L839.5,219.1 L845.2,216.5 L845.4,220.1 L848.3,223.7 L850.6,221.3 L849.9,215.5 L856.9,213.8 L858.6,216.4 L855.9,222.3 L859.0,221.8 L863.4,222.5 L866.3,221.4 L866.4,216.6 L870.6,214.7 L869.0,219.8 L872.6,220.8 L876.3,221.7 L877.7,226.2 L878.9,222.5 L881.2,220.9 L882.8,217.9 L886.0,220.8 L887.6,223.1 L890.8,222.9 L891.9,226.1 L897.3,222.4 L898.8,224.9 L899.9,227.7 L904.0,228.8 L906.3,227.3 L906.6,222.6 L908.5,220.3 L911.5,219.8 L914.1,218.6 L918.0,219.5 L920.0,213.9 L919.8,218.8 L922.2,220.0 L924.1,222.0 L926.5,223.3 L929.3,224.0 L932.0,223.9 L934.6,224.0 L937.2,224.5 L939.6,227.4 L942.6,222.9 L944.0,224.2 L948.0,226.1 L948.6,221.9 L950.2,219.7 L952.3,218.2 L956.2,220.0 L957.9,217.3 L961.8,220.8 L964.4,219.5 L967.4,219.4 L969.2,214.1 L971.7,212.5 L974.3,212.2 L977.3,214.5 L980.1,215.5 L982.5,213.5 L984.7,211.2 L987.8,211.3 L990.9,211.6 L993.7,211.0 L996.5,210.5 L999.4,210.1 L1001.4,207.3 L1003.7,205.2 L1006.9,205.7 L1009.2,203.6 L1012.0,203.1 L1014.5,202.4 L1017.1,202.9 L1019.5,201.4 L1022.1,201.2 L1024.6,200.9 L1027.1,200.4 L1029.9,201.7 L1032.3,200.7 L1034.8,199.9 L1037.4,199.7 L1040.1,200.7 L1042.5,199.3 L1045.0,198.4 L1047.6,199.7 L1050.2,199.3 L1052.8,200.1 L1055.4,198.1 L1058.0,198.9 L1060.6,199.7 L1063.2,199.7 L1065.8,199.9 L1068.4,198.0 L1071.0,198.5 L1073.6,198.2 L1076.2,198.3 L1078.8,200.0 L1081.4,199.2 L1083.4,199.7 L1086.9,201.3 L1088.8,204.4 L1091.1,206.6 L1093.0,209.1 L1093.4,212.2 L1094.1,215.0 L1096.8,216.9 L1096.8,219.9 L1097.8,222.5 L1099.6,224.9 L1100.0,227.8 L1101.1,230.6 L1101.7,233.6 L1102.2,236.5 L1102.2,239.6 L1103.5,242.3 L1105.8,244.4 L1107.5,246.9 L1108.4,249.9 L1108.1,252.7 L1109.7,255.1 L1110.0,257.8 L1110.7,260.4 L1110.0,263.3 L1111.1,265.8 L1112.6,268.3 L1113.1,270.9 L1113.0,273.7 L1113.2,276.4 L1113.5,279.0 L1115.1,281.5 L1115.3,284.1 L1114.5,286.9 L1115.5,289.5 L1116.2,292.1 L1116.5,294.7 L1115.5,297.5 L1117.2,300.0 L1117.1,302.7 L1117.9,305.2 L1118.2,307.9 L1117.6,310.6 L1117.7,313.3 L1119.4,315.7 L1120.2,318.3 L1119.3,321.1 L1120.8,323.6 L1121.6,326.2 L1119.9,329.0 L1121.3,331.5 L1120.8,334.3 L1122.0,336.8 L1121.3,339.5 L1122.6,342.1 L1123.5,344.6 L1124.2,347.1 L1123.3,349.8 L1123.5,352.3 L1123.2,354.9 L1125.3,357.2 L1124.5,359.9 L1125.3,362.4 L1125.4,364.9 L1126.5,367.4 L1126.5,369.9 L1126.5,372.7 L1126.1,375.5 L1128.3,377.8 L1128.0,380.7 L1127.8,383.5 L1128.1,386.4 L1130.6,388.1 L1131.8,390.3 L1132.9,393.3 L1133.7,390.7 L1133.4,387.8 L1133.2,384.9 L1135.7,382.8 L1135.3,380.0 L1136.6,377.6 L1136.2,375.0 L1136.9,372.5 L1135.7,369.8 L1137.3,367.5 L1136.3,364.8 L1136.9,362.3 L1138.1,359.9 L1138.3,357.4 L1137.2,354.7 L1137.5,352.2 L1138.1,349.7 L1138.6,347.2 L1138.5,344.7 L1138.2,342.0 L1138.7,339.4 L1140.0,336.9 L1140.6,334.3 L1139.0,331.5 L1140.4,328.9 L1141.0,326.3 L1139.7,323.6 L1141.7,321.1 L1140.4,318.3 L1141.7,315.8 L1141.9,313.2 L1142.4,310.6 L1142.0,307.8 L1142.6,305.2 L1143.2,302.7 L1143.2,300.0 L1144.0,297.4 L1143.8,294.7 L1144.1,292.1 L1143.5,289.4 L1145.1,286.9 L1145.2,284.3 L1144.9,281.6 L1146.4,279.1 L1146.8,276.5 L1146.5,273.7 L1146.3,271.0 L1147.3,268.5 L1146.9,265.7 L1147.4,263.1 L1148.4,260.5 L1148.1,257.8 L1149.2,255.3 L1149.8,252.7 L1149.1,249.9 L1150.8,247.4 L1150.0,244.6 L1151.8,242.2 L1152.3,239.7 L1152.5,237.0 L1152.3,234.3 L1154.0,232.1 L1154.5,229.5 L1156.5,227.4 L1155.6,224.4 L1157.9,222.4 L1158.3,220.7 L1160.4,219.3 L1162.9,218.5 L1164.8,216.3 L1167.9,217.3 L1170.2,215.6 L1172.9,216.6 L1175.6,216.5 L1178.3,214.9 L1180.9,216.2 L1183.6,216.5 L1186.3,214.6 L1188.8,215.3 L1191.8,214.5 L1193.6,211.9 L1196.6,211.9 L1199.1,210.1 L1201.9,210.8 L1204.3,208.9 L1207.1,209.3 L1209.9,209.8 L1212.3,207.8 L1215.1,207.5 L1217.5,208.8 L1220.1,209.1 L1222.8,209.3 L1224.7,210.4 L1227.1,209.0 L1230.5,209.2 L1232.7,207.3 L1235.4,206.4 L1237.2,203.7 L1240.0,203.6 L1242.5,202.0 L1245.0,202.8 L1247.5,202.9 L1250.0,202.2 L1252.5,203.2 L1255.0,202.4 L1257.5,202.3 L1260.0,202.8 L1262.5,201.0 L1265.1,202.8 L1267.5,201.9 L1270.0,201.3 L1272.5,202.0 L1275.0,200.7 L1277.6,202.2 L1280.0,201.2 L1282.5,200.6 L1285.0,201.3 L1287.5,200.5 L1290.0,199.8 L1292.5,200.9 L1295.0,199.3 L1297.5,200.8 L1300.0,199.5 L1302.5,200.5 L1304.9,201.4 L1307.5,200.6 L1310.0,201.0 L1312.5,200.3 L1315.1,199.8 L1317.6,200.0 L1320.0,200.4 L1322.5,201.6 L1325.0,201.4 L1327.5,201.7 L1329.9,202.7 L1332.5,201.1 L1335.0,201.5 L1337.5,202.6 L1340.1,201.4 L1342.6,201.5 L1345.0,202.4 L1347.6,202.0 L1350.1,202.7 L1353.1,203.4 L1355.6,205.2 L1358.5,206.2 L1361.4,206.3 L1364.1,207.2 L1366.7,206.8 L1369.3,206.0 L1372.1,207.7 L1374.7,206.1 L1377.3,205.8 L1380.0,205.6 L1382.8,206.8 L1385.5,207.3 L1388.2,207.1 L1391.0,206.3 L1393.8,206.0 L1396.5,205.4 L1399.2,206.8 L1402.0,206.5"/>
<path fill="#00f" stroke="#00f" stroke-width="1" d="M1400.0,201.0 L1483.3,201.0 L1483.3,209.3 L1486.3,225.0 L1490.0,220.5 L1494.5,219.8 L1498.3,223.5 L1499.0,231.8 L1505.0,232.2 L1507.3,235.5 L1508.8,256.5 L1512.5,258.0 L1515.5,262.5 L1516.3,271.5 L1520.0,273.0 L1523.0,276.0 L1524.5,288.0 L1530.6,290.3 L1535.1,293.3 L1538.8,289.5 L1544.1,288.0 L1548.6,284.7 L1553.1,285.0 L1556.1,287.3 L1557.6,274.5 L1561.3,270.0 L1565.1,270.3 L1568.1,274.5 L1570.3,294.0 L1572.6,312.0 L1576.3,328.6 L1580.1,340.6 L1587.6,339.8 L1591.3,343.6 L1592.8,357.1 L1594.3,337.6 L1598.1,333.8 L1602.6,333.1 L1603.3,310.5 L1606.3,306.8 L1609.3,306.0 L1610.1,282.0 L1611.6,249.0 L1614.6,245.3 L1619.1,245.7 L1622.1,250.5 L1623.1,284.3 L1628.1,286.2 L1629.6,303.0 L1630.6,308.3 L1631.8,282.0 L1634.8,274.5 L1640.1,273.0 L1641.9,255.0 L1645.3,251.3 L1649.8,251.3 L1652.9,254.3 L1654.4,228.0 L1655.1,209.3 L1655.1,201.0 L1670.1,201.0 L1670.1,270.8 L1663.4,270.8 L1662.6,288.0 L1658.1,303.0 L1655.1,313.5 L1647.6,315.8 L1640.1,316.5 L1639.3,348.1 L1635.6,355.6 L1631.1,356.3 L1627.3,348.1 L1625.1,357.1 L1617.6,358.3 L1616.1,363.1 L1611.6,366.1 L1610.1,391.6 L1609.3,417.1 L1606.3,423.1 L1601.8,423.1 L1598.8,415.6 L1592.1,413.3 L1589.8,408.1 L1588.3,378.1 L1584.6,368.3 L1580.1,368.3 L1576.3,366.1 L1571.8,354.1 L1568.1,330.1 L1563.6,318.0 L1561.3,309.0 L1559.8,321.0 L1556.1,325.6 L1551.6,325.6 L1548.6,318.0 L1547.8,307.5 L1544.1,306.8 L1541.8,333.1 L1540.3,346.6 L1535.8,350.3 L1532.1,348.1 L1529.8,333.1 L1528.3,308.3 L1520.0,307.2 L1514.0,306.0 L1509.5,303.8 L1508.0,279.8 L1503.5,278.3 L1500.5,270.0 L1499.0,259.5 L1493.0,256.5 L1487.0,256.8 L1482.5,252.0 L1478.8,243.0 L1476.5,237.3 L1473.5,243.0 L1469.8,244.5 L1466.0,240.0 L1463.8,222.8 L1460.0,216.0 L1449.5,214.8 L1445.0,220.5 L1442.8,222.8 L1438.3,225.0 L1433.8,229.8 L1429.3,227.3 L1426.3,216.0 L1422.5,214.2 L1415.0,210.8 L1400.0,210.0Z"/>
</g>
<g stroke="#000" stroke-width="6.5" stroke-linecap="butt">
<line x1="341.3" y1="1332" x2="446.3" y2="1267"/>
<line x1="1044.1" y1="974.7" x2="1344.8" y2="1097.6"/>
<line x1="997.6" y1="1200.6" x2="1118.2" y2="1264.7"/>
<line x1="1487.7" y1="1260.2" x2="1577.3" y2="1395.3"/>
</g>
<g stroke-width="10.4" stroke-linecap="round">
<line x1="683" y1="501.1" x2="868" y2="501.1" stroke="#000"/>
<line x1="683" y1="603" x2="868" y2="603" stroke="#f00"/>
<line x1="683" y1="704.8" x2="868" y2="704.8" stroke="#00f"/>
</g>
<g font-family="'Liberation Sans', sans-serif" fill="#000">
<text transform="translate(140.0,142.8) scale(1,1.040)" font-size="84.0" text-anchor="middle">4000</text>
<text transform="translate(575.0,142.8) scale(1,1.040)" font-size="84.0" text-anchor="middle">3000</text>
<text transform="translate(1010.0,142.8) scale(1,1.040)" font-size="84.0" text-anchor="middle">2000</text>
<text transform="translate(1445.0,142.8) scale(1,1.040)" font-size="84.0" text-anchor="middle">1000</text>
<text transform="translate(891.0,529.7) scale(1,1.040)" font-size="84.5" text-anchor="start">GA-1</text>
<text transform="translate(891.0,631.7) scale(1,1.040)" font-size="84.5" text-anchor="start">GA-2</text>
<text transform="translate(891.0,733.5) scale(1,1.040)" font-size="84.5" text-anchor="start">SB</text>
<text transform="translate(452.6,1300.0) scale(1,1.040)" font-size="83.0" text-anchor="start">3455.7</text>
<text transform="translate(838.6,981.3) scale(1,1.040)" font-size="84.5" text-anchor="start">1133.0</text>
<text transform="translate(813.0,1200.6) scale(1,1.040)" font-size="84.0" text-anchor="start">1643.1</text>
<text transform="translate(1358.5,1265.0) scale(1,1.040)" font-size="84.0" text-anchor="start">605.8</text>
<text transform="translate(452.6,1631.0) scale(1,1.040)" font-size="105.7" text-anchor="start">Wavenumber/cm<tspan font-size="73" dx="3" dy="-40">-1</tspan></text>
<text transform="translate(1789.2,1212) rotate(-90) scale(1,1.040)" font-size="107.2">Transimittance/%</text>
</g>
</svg>
</body></html>
